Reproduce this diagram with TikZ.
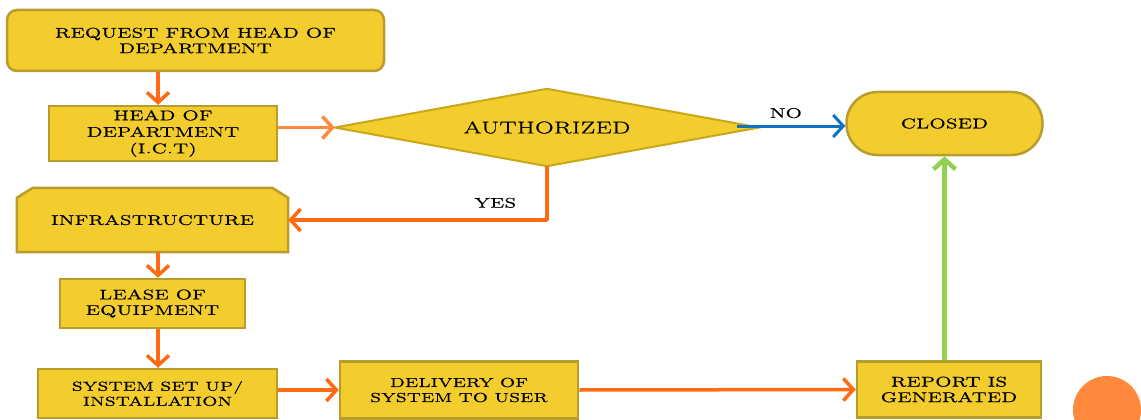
\documentclass[tikz,border=0pt]{standalone}
\usepackage{fontspec}
\usetikzlibrary{arrows.meta,backgrounds}

% wide, heavy capitals for all labels
\newfontfamily\boxfont{Latin Modern Roman}[FakeStretch=1.5, LetterSpace=3, FakeBold=1]

\definecolor{boxfill}{HTML}{F3CC2E}
\definecolor{boxline}{HTML}{B89C2C}
\definecolor{diamline}{HTML}{C9A71A}
\definecolor{flow}{HTML}{FF6A13}
\definecolor{flowlight}{HTML}{FF8A3D}
\definecolor{noblue}{HTML}{0F71C1}
\definecolor{donegreen}{HTML}{92D050}

\tikzset{
  lbl/.style={text=black, font=\boxfont\fontsize{14}{15.5}\selectfont},
  small/.style={font=\boxfont\fontsize{13}{15}\selectfont},
  stepbox/.style={lbl, draw=boxline, fill=boxfill, line width=2.5pt,
    inner sep=0pt, align=center},
  ghostbox/.style={lbl, inner sep=0pt, align=center},
  arr/.style={line width=3.5pt, -{Straight Barb[length=10pt,width=22pt]}, color=flow},
}

\begin{document}
\begin{tikzpicture}[x=1pt, y=-1pt]
  \useasboundingbox (0,0) rectangle (1141,420);

  % decorative disc in the corner
  \fill[flowlight] (1107,410) circle (34);

  % process steps
  \node[stepbox, rounded corners=10pt, minimum width=377pt, minimum height=61pt]
    (req) at (195.5,40.5) {REQUEST FROM HEAD OF\\DEPARTMENT};
  \node[stepbox, minimum width=228pt, minimum height=55pt,
        font=\boxfont\fontsize{14}{16.5}\selectfont]
    (hod) at (163,133.5) {HEAD OF\\DEPARTMENT\\(I.C.T)};
  \node[ghostbox, minimum width=424pt, minimum height=77pt,
        font=\boxfont\fontsize{17}{19}\selectfont]
    (auth) at (547,127.5) {AUTHORIZED};
  \node[stepbox, rounded corners=31pt, minimum width=196pt, minimum height=63pt]
    (closed) at (944.5,123.5) {CLOSED};
  \node[ghostbox, minimum width=271pt, minimum height=64pt]
    (infra) at (152.5,220) {INFRASTRUCTURE};
  \node[stepbox, minimum width=185pt, minimum height=49pt]
    (lease) at (152.5,303.5) {LEASE OF\\EQUIPMENT};
  \node[stepbox, small, minimum width=239pt, minimum height=49pt]
    (setup) at (157.5,393.5) {SYSTEM SET UP/\\INSTALLATION};
  \node[stepbox, small, minimum width=238pt, minimum height=57pt]
    (deliv) at (459,390) {DELIVERY OF\\SYSTEM TO USER};
  \node[stepbox, minimum width=184pt, minimum height=56pt]
    (report) at (949,389.5) {REPORT IS\\GENERATED};

  % decision diamond and chamfered box outlines behind their labels
  \begin{pgfonlayer}{background}
    \draw[draw=diamline, fill=boxfill, line width=2pt, line join=miter]
      (auth.west) -- (auth.north) -- (auth.east) -- (auth.south) -- cycle;
    \draw[draw=boxline, fill=boxfill, line width=2.5pt]
      ([yshift=-10pt]infra.north west) -- ([xshift=16pt]infra.north west)
      -- ([xshift=-16pt]infra.north east) -- ([yshift=-10pt]infra.north east)
      -- (infra.south east) -- (infra.south west) -- cycle;
  \end{pgfonlayer}

  % connectors
  \coordinate (spine) at (158,0);
  \draw[arr] (req.south -| spine) -- (hod.north -| spine);
  \draw[arr, color=flowlight] (hod.east |- auth.west) -- (auth.west);
  \draw[arr, color=noblue, line width=3pt]
    ([xshift=-22pt,yshift=1.5pt]auth.east) -- ([yshift=1.5pt]auth.east -| closed.west)
    node[lbl, pos=0.45, above=3pt] {NO};
  \draw[arr, line join=round] (auth.south) |- (infra.east)
    node[lbl, pos=0.6, above=7pt] {YES};
  \draw[arr] (infra.south -| spine) -- (lease.north -| spine);
  \draw[arr] (lease.south -| spine) -- (setup.north -| spine);
  \draw[arr] (setup.east |- deliv.west) -- (deliv.west);
  \draw[arr] (deliv.east) -- (report.west);
  \draw[arr, color=donegreen, line width=4.5pt] (closed.south |- report.north) -- (closed.south);
\end{tikzpicture}
\end{document}
